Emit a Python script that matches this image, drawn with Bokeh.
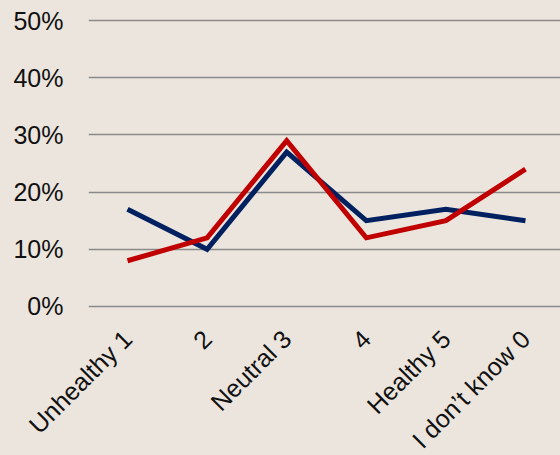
import math
from bokeh.plotting import figure
from bokeh.models import Range1d, FixedTicker, NumeralTickFormatter, GlobalInlineStyleSheet
from bokeh.embed import file_html
from bokeh.resources import INLINE

categories = ["Unhealthy 1", "2", "Neutral 3", "4", "Healthy 5", "I don\u2019t know 0"]
series_blue = [0.17, 0.10, 0.27, 0.15, 0.17, 0.15]
series_red = [0.08, 0.12, 0.29, 0.12, 0.15, 0.24]
y_ticks = [0.0, 0.1, 0.2, 0.3, 0.4, 0.5]

BG = "#ece5de"
xs = list(range(len(categories)))

p = figure(output_backend="svg", toolbar_location=None,
           frame_width=472, frame_height=304,
           x_range=Range1d(-0.49, 5.44), y_range=Range1d(-0.0105, 0.521),
           min_border_left=88, min_border_right=0, min_border_top=8, min_border_bottom=0)
p.stylesheets = [GlobalInlineStyleSheet(css=f"body{{background:{BG};}}")]
p.background_fill_color = BG
p.border_fill_color = BG
p.outline_line_color = None

p.line(xs, series_blue, line_color="#002060", line_width=5, line_join="miter")
p.line(xs, series_red, line_color="#C00000", line_width=5, line_join="miter")

p.xgrid.grid_line_color = None
p.ygrid.ticker = FixedTicker(ticks=y_ticks)
p.ygrid.grid_line_color = "#8a8a8a"
p.ygrid.grid_line_width = 1.5

p.yaxis.ticker = FixedTicker(ticks=y_ticks)
p.yaxis.formatter = NumeralTickFormatter(format="0%")
p.xaxis.ticker = FixedTicker(ticks=xs)
p.xaxis.major_label_overrides = {i: c for i, c in enumerate(categories)}
p.xaxis.major_label_orientation = math.pi / 4

for ax in (p.xaxis[0], p.yaxis[0]):
    ax.axis_line_color = None
    ax.major_tick_line_color = None
    ax.minor_tick_line_color = None
    ax.major_tick_out = 0
    ax.major_tick_in = 0
    ax.major_label_text_font = "Liberation Sans"
    ax.major_label_text_font_size = "25px"
    ax.major_label_text_color = "#111111"
p.yaxis.major_label_standoff = 25
p.xaxis.major_label_standoff = 22

open("out.html", "w").write(file_html(p, INLINE))
